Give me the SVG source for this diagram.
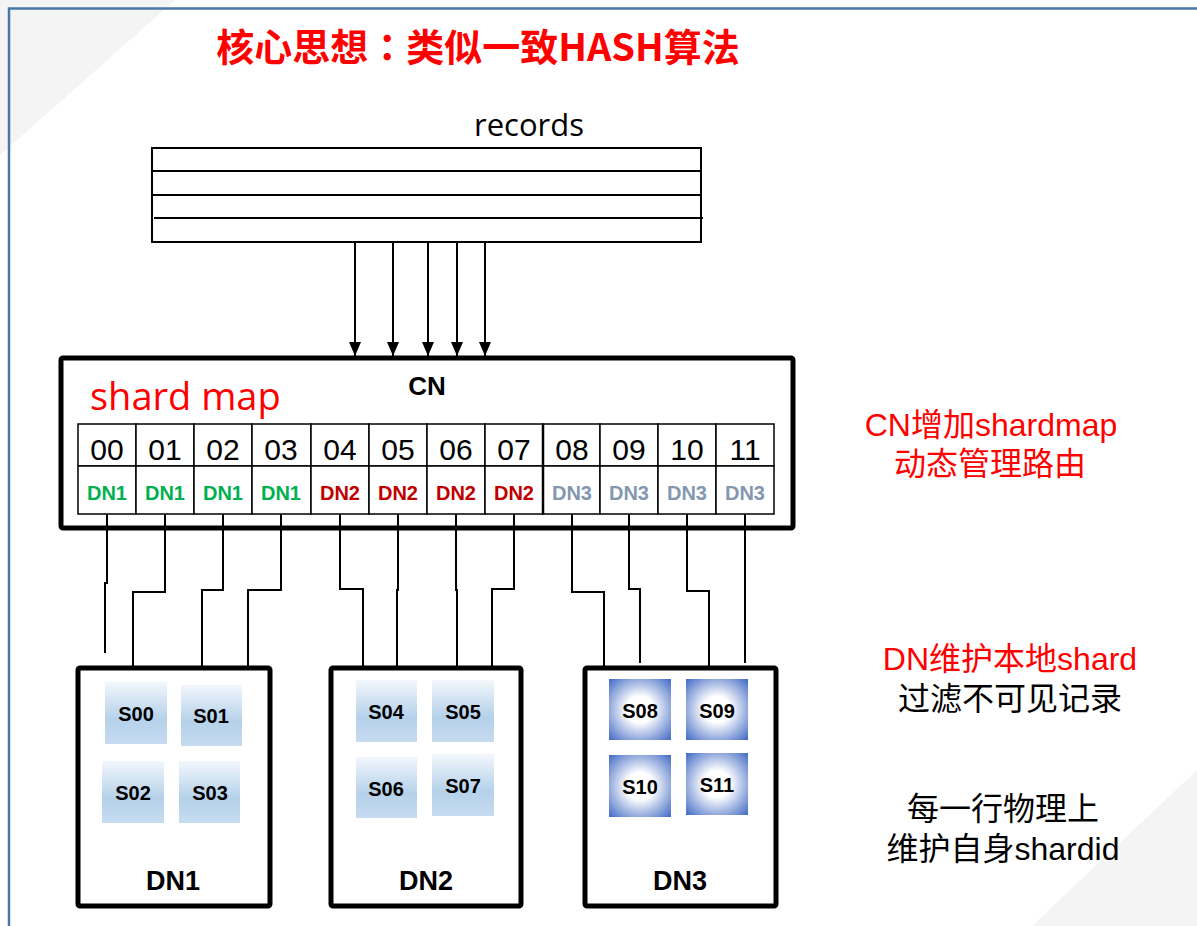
<svg xmlns="http://www.w3.org/2000/svg" width="1197" height="926" viewBox="0 0 1197 926">
<defs>
<style>
.cjk{font-family:"Noto Sans CJK SC","Noto Sans",sans-serif}
.note{font-family:"Liberation Sans","Noto Sans CJK SC",sans-serif}
.ar{font-family:"Liberation Sans",Arial,sans-serif}
.os{font-family:"Open Sans","Noto Sans",sans-serif}
.box{fill:#fff;stroke:#000;stroke-width:5}
.cell{fill:#fff;stroke:#000;stroke-width:1.5}
.num{font-size:30px;text-anchor:middle;fill:#000}
.dn{font-size:20px;font-weight:bold;text-anchor:middle}
.g{fill:#00b050}.r{fill:#c00000}.b{fill:#8497b0}
.sh{font-size:20px;font-weight:bold;text-anchor:middle;fill:#000}
.dnl{font-size:27px;font-weight:bold;text-anchor:middle;fill:#000}
.conn{fill:none;stroke:#000;stroke-width:2}
.arrow{fill:none;stroke:#000;stroke-width:2;marker-end:url(#arr)}
.side{font-size:32px;text-anchor:middle}
</style>
<marker id="arr" viewBox="0 0 14 12" refX="14" refY="6" markerWidth="14" markerHeight="12" markerUnits="userSpaceOnUse" orient="auto">
<path d="M0,0 L14,6 L0,12 z" fill="#000"/>
</marker>
<linearGradient id="lg" x1="0" y1="0" x2="0" y2="1">
<stop offset="0" stop-color="#f3f7fc"/>
<stop offset="0.6" stop-color="#b5d1ea"/>
<stop offset="1" stop-color="#c6dbef"/>
</linearGradient>
<radialGradient id="rg" cx="0.5" cy="0.5" r="0.72">
<stop offset="0" stop-color="#ffffff"/>
<stop offset="0.3" stop-color="#ffffff"/>
<stop offset="1" stop-color="#3a64c2"/>
</radialGradient>
</defs>
<rect x="0" y="0" width="1197" height="926" fill="#fff"/>
<polygon points="0,0 175,0 0,155" fill="#f4f4f4"/>
<polygon points="1197,770 1197,926 1032,926" fill="#f4f4f4"/>
<path d="M9,926 V8.5 H1197" fill="none" stroke="#4a77a6" stroke-width="2.5"/>

<g id="title">
<text x="478" y="61" class="cjk" font-size="38" font-weight="bold" fill="#ff0000" text-anchor="middle">核心思想<tspan font-family="'Noto Sans CJK TC',sans-serif">：</tspan>类似一致HASH算法</text>
</g>

<g id="records">
<text x="529" y="136" class="os" font-size="31" text-anchor="middle" fill="#000">records</text>
<rect x="152" y="148" width="549" height="94" fill="#fff" stroke="#000" stroke-width="2"/>
<line x1="152" y1="171" x2="701" y2="171" stroke="#000" stroke-width="2"/>
<line x1="152" y1="195" x2="701" y2="195" stroke="#000" stroke-width="2"/>
<line x1="154" y1="218" x2="703" y2="218" stroke="#000" stroke-width="2"/>
</g>

<g id="cn">
<rect x="61" y="358" width="732" height="170" rx="2" class="box"/>
<text x="427" y="395" class="ar" font-size="26" font-weight="bold" text-anchor="middle">CN</text>
<text x="90" y="410" class="os" font-size="38" fill="#ff0000">shard map</text>
<g id="shardmap">
<rect x="78" y="424" width="58" height="42" class="cell"/><rect x="78" y="466" width="58" height="48" class="cell"/>
<rect x="136" y="424" width="58" height="42" class="cell"/><rect x="136" y="466" width="58" height="48" class="cell"/>
<rect x="194" y="424" width="58" height="42" class="cell"/><rect x="194" y="466" width="58" height="48" class="cell"/>
<rect x="252" y="424" width="59" height="42" class="cell"/><rect x="252" y="466" width="59" height="48" class="cell"/>
<rect x="311" y="424" width="58" height="42" class="cell"/><rect x="311" y="466" width="58" height="48" class="cell"/>
<rect x="369" y="424" width="58" height="42" class="cell"/><rect x="369" y="466" width="58" height="48" class="cell"/>
<rect x="427" y="424" width="58" height="42" class="cell"/><rect x="427" y="466" width="58" height="48" class="cell"/>
<rect x="485" y="424" width="58" height="42" class="cell"/><rect x="485" y="466" width="58" height="48" class="cell"/>
<rect x="543" y="424" width="57" height="42" class="cell"/><rect x="543" y="466" width="57" height="48" class="cell"/>
<rect x="600" y="424" width="58" height="42" class="cell"/><rect x="600" y="466" width="58" height="48" class="cell"/>
<rect x="658" y="424" width="58" height="42" class="cell"/><rect x="658" y="466" width="58" height="48" class="cell"/>
<rect x="716" y="424" width="58" height="42" class="cell"/><rect x="716" y="466" width="58" height="48" class="cell"/>
<line x1="543" y1="424" x2="543" y2="514" stroke="#000" stroke-width="2.5"/>
<g class="ar num">
<text x="107" y="460">00</text><text x="165" y="460">01</text><text x="223" y="460">02</text><text x="281" y="460">03</text>
<text x="340" y="460">04</text><text x="398" y="460">05</text><text x="456" y="460">06</text><text x="514" y="460">07</text>
<text x="572" y="460">08</text><text x="629" y="460">09</text><text x="687" y="460">10</text><text x="745" y="460">11</text>
</g>
<g class="ar dn">
<text x="107" y="500" class="g">DN1</text><text x="165" y="500" class="g">DN1</text><text x="223" y="500" class="g">DN1</text><text x="281" y="500" class="g">DN1</text>
<text x="340" y="500" class="r">DN2</text><text x="398" y="500" class="r">DN2</text><text x="456" y="500" class="r">DN2</text><text x="514" y="500" class="r">DN2</text>
<text x="572" y="500" class="b">DN3</text><text x="629" y="500" class="b">DN3</text><text x="687" y="500" class="b">DN3</text><text x="745" y="500" class="b">DN3</text>
</g>
</g>
</g>

<g id="connectors">
<line x1="355" y1="243" x2="355" y2="356" class="arrow"/>
<line x1="393" y1="243" x2="393" y2="356" class="arrow"/>
<line x1="428" y1="243" x2="428" y2="356" class="arrow"/>
<line x1="457" y1="243" x2="457" y2="356" class="arrow"/>
<line x1="485" y1="243" x2="485" y2="356" class="arrow"/>
<path d="M107,514 V583 H105 V653" class="conn"/>
<path d="M165,514 V592 H133 V668" class="conn"/>
<path d="M223,514 V590 H202 V668" class="conn"/>
<path d="M281,514 V590 H248 V668" class="conn"/>
<path d="M340,514 V589 H363 V668" class="conn"/>
<path d="M398,514 V590 H397 V668" class="conn"/>
<path d="M456,514 V590 H457 V668" class="conn"/>
<path d="M514,514 V589 H492 V668" class="conn"/>
<path d="M572,514 V592 H604 V668" class="conn"/>
<path d="M629,514 V589 H640 V663" class="conn"/>
<path d="M687,514 V591 H709 V668" class="conn"/>
<path d="M745,514 V589 H745 V663" class="conn"/>
</g>

<g id="dn1">
<rect x="78" y="668" width="192" height="238" rx="2" class="box"/>
<rect x="105" y="682" width="62" height="62" fill="url(#lg)"/>
<rect x="181" y="685" width="61" height="61" fill="url(#lg)"/>
<rect x="102" y="761" width="62" height="62" fill="url(#lg)"/>
<rect x="179" y="761" width="61" height="62" fill="url(#lg)"/>
<g class="ar sh">
<text x="136" y="721">S00</text><text x="211" y="723">S01</text>
<text x="133" y="800">S02</text><text x="210" y="800">S03</text>
</g>
<text x="173" y="890" class="ar dnl">DN1</text>
</g>

<g id="dn2">
<rect x="331" y="668" width="190" height="238" rx="2" class="box"/>
<rect x="356" y="680" width="61" height="62" fill="url(#lg)"/>
<rect x="432" y="680" width="62" height="62" fill="url(#lg)"/>
<rect x="356" y="757" width="61" height="61" fill="url(#lg)"/>
<rect x="432" y="754" width="62" height="62" fill="url(#lg)"/>
<g class="ar sh">
<text x="386" y="719">S04</text><text x="463" y="719">S05</text>
<text x="386" y="796">S06</text><text x="463" y="793">S07</text>
</g>
<text x="426" y="890" class="ar dnl">DN2</text>
</g>

<g id="dn3">
<rect x="585" y="668" width="191" height="238" rx="2" class="box"/>
<rect x="609" y="679" width="62" height="61" fill="url(#rg)"/>
<rect x="686" y="679" width="62" height="61" fill="url(#rg)"/>
<rect x="609" y="755" width="62" height="62" fill="url(#rg)"/>
<rect x="686" y="753" width="62" height="62" fill="url(#rg)"/>
<g class="ar sh">
<text x="640" y="718">S08</text><text x="717" y="718">S09</text>
<text x="640" y="794">S10</text><text x="717" y="792">S11</text>
</g>
<text x="680" y="890" class="ar dnl">DN3</text>
</g>

<g id="notes" class="note">
<text x="991" y="436" class="side" fill="#ff0000">CN增加shardmap</text>
<text x="990" y="475" class="side" fill="#ff0000">动态管理路由</text>
<text x="1010" y="670" class="side" fill="#ff0000">DN维护本地shard</text>
<text x="1010" y="710" class="side" fill="#000">过滤不可见记录</text>
<text x="1003" y="820" class="side" fill="#000">每一行物理上</text>
<text x="1003" y="860" class="side" fill="#000">维护自身shardid</text>
</g>
</svg>
